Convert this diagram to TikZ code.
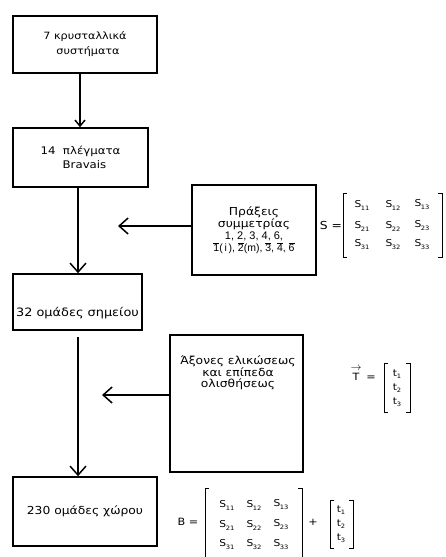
\documentclass[tikz,border=0pt]{standalone}
\usepackage{fontspec}
\setmainfont{DejaVu Sans}[FakeStretch=1.12]
\newfontfamily\numfont{Liberation Sans}
\usetikzlibrary{arrows.meta,calc}
\newcommand{\ovl}[1]{\leavevmode\vbox{\hrule height .5pt\kern.8pt\hbox{#1}}}
\newcommand{\Sij}[1]{S\kern-.3pt\raisebox{-3pt}{\fontsize{6}{6}\selectfont #1}}
\newcommand{\tij}[1]{t\raisebox{-2pt}{\fontsize{6}{6}\selectfont #1}}
\begin{document}
\begin{tikzpicture}[x=1pt,y=-1pt,
  box/.style={draw,line width=1.6pt,inner sep=0pt,align=center,font=\fontsize{11.5}{15}\selectfont},
  txt/.style={inner sep=0pt,align=center,font=\fontsize{11.5}{12.5}\selectfont},
  ent/.style={inner sep=0pt,font=\fontsize{9.5}{10}\selectfont},
  lbl/.style={inner sep=0pt,font=\fontsize{10}{10}\selectfont},
  arrbig/.style={line width=1.5pt,-{Straight Barb[length=9pt,width=16pt,line width=1.5pt]}},
  arrsmall/.style={line width=1.5pt,-{Straight Barb[length=6pt,width=10pt,line width=1.5pt]}},
  brk/.style={line width=0.9pt}]
\useasboundingbox (0,0) rectangle (445,557);
% boxes
\node[box,minimum width=144pt,minimum height=57pt,font=\fontsize{10}{15}\selectfont] (b1) at (85,44.5) {7 κρυσταλλικά\\\hspace*{6pt}συστήματα};
\node[box,minimum width=135pt,minimum height=59pt,font=\fontsize{10.5}{14}\selectfont] (b2) at (80.5,157.5) {14\ \ πλέγματα\\\hspace*{8pt}Bravais};
\node[box,minimum width=124pt,minimum height=90pt,font=\fontsize{11}{12}\selectfont] (bp) at (254,230)
  {Πράξεις\\συμμετρίας\\{\numfont\fontsize{11}{12}\selectfont 1, 2, 3, 4, 6,}\\{\numfont\fontsize{10.5}{12}\selectfont \ovl{1}(\,i\,), \ovl{2}(m), \ovl{3}, \ovl{4}, \ovl{6}}};
\node[box,minimum width=129pt,minimum height=56pt] (b3) at (77.5,302) {};
\node[txt] (t3) at (77.5,313) {32 ομάδες σημείου};
\node[box,minimum width=133pt,minimum height=137pt] (ba) at (236.5,403.5) {};
\node[txt,font=\fontsize{11}{11}\selectfont] (ta) at (238,373) {Άξονες ελικώσεως\\και επίπεδα\\ολισθήσεως};
\node[box,minimum width=144pt,minimum height=69pt,font=\fontsize{11}{13}\selectfont] (b4) at (85,511.5) {230 ομάδες χώρου};
% column coordinates
\coordinate (c1) at (80,0);
\coordinate (c2) at (78,0);
\coordinate (tipP) at (118,226);
\coordinate (tipA) at (102,395);
\coordinate (s3) at (78,337);
% arrows
\draw[arrsmall] (b1.south -| c1) -- (b2.north -| c1);
\draw[arrbig] (b2.south -| c2) -- (b3.north -| c2);
\draw[arrbig] (s3) -- (b4.north -| c2);
\draw[arrbig] (bp.west |- tipP) -- (tipP);
\draw[arrbig] (ba.west |- tipA) -- (tipA);
% S matrix
\node[lbl,font=\fontsize{11}{11}\selectfont] (Seq) at (331,225) {S =};
\draw[brk] (347,193) -- (343,193) -- (343,257) -- (347,257);
\draw[brk] (438,193) -- (442,193) -- (442,257) -- (438,257);
\node[ent] (s11) at (362,205) {\Sij{11}};
\node[ent] (s12) at (393,205) {\Sij{12}};
\node[ent] (s13) at (422,205) {\Sij{13}};
\node[ent] (s21) at (362,226) {\Sij{21}};
\node[ent] (s22) at (393,226) {\Sij{22}};
\node[ent] (s23) at (422,226) {\Sij{23}};
\node[ent] (s31) at (362,245) {\Sij{31}};
\node[ent] (s32) at (393,245) {\Sij{32}};
\node[ent] (s33) at (422,245) {\Sij{33}};
% T vector
\node[lbl] (Tv) at (356,377) {T};
\node[inner sep=0pt,font=\fontsize{11}{11}\selectfont] (Tarr) at (356,368) {$\rightarrow$};
\node[lbl] (Teq) at (371,378) {=};
\draw[brk] (388,363) -- (384,363) -- (384,412) -- (388,412);
\draw[brk] (406,363) -- (410,363) -- (410,412) -- (406,412);
\node[ent] (t1) at (397,374) {\tij{1}};
\node[ent] (t2) at (397,388) {\tij{2}};
\node[ent] (t3v) at (397,402) {\tij{3}};
% B matrix
\node[lbl] (Beq) at (188,522) {B =};
\draw[brk] (209,488) -- (205,488) -- (205,560) ;
\draw[brk] (298,488) -- (302,488) -- (302,560) ;
\node[ent] (b11) at (227,505) {\Sij{11}};
\node[ent] (b12) at (254,505) {\Sij{12}};
\node[ent] (b13) at (281,505) {\Sij{13}};
\node[ent] (b21) at (227,525) {\Sij{21}};
\node[ent] (b22) at (254,525) {\Sij{22}};
\node[ent] (b23) at (281,525) {\Sij{23}};
\node[ent] (b31) at (227,545) {\Sij{31}};
\node[ent] (b32) at (254,545) {\Sij{32}};
\node[ent] (b33) at (281,545) {\Sij{33}};
\node[lbl] (plus) at (313,522) {+};
\draw[brk] (334,500) -- (330,500) -- (330,548) -- (334,548);
\draw[brk] (349,500) -- (353,500) -- (353,548) -- (349,548);
\node[ent] (bt1) at (341,510) {\tij{1}};
\node[ent] (bt2) at (341,524) {\tij{2}};
\node[ent] (bt3) at (341,538) {\tij{3}};
\end{tikzpicture}
\end{document}
